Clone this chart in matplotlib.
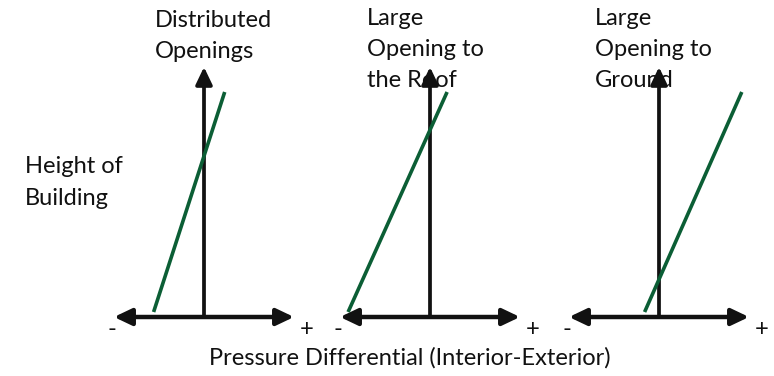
import matplotlib
matplotlib.use("Agg")
import matplotlib.pyplot as plt
from matplotlib.patches import FancyArrowPatch

# Qualitative internal-pressure profiles for three opening configurations
panel_titles = ["Distributed\nOpenings", "Large\nOpening to\nthe Roof", "Large\nOpening to\nGround"]
# normalised pressure differential (-1 .. +1) at the bottom and the top of the profile line
pressure_bottom = [-0.56, -0.91, -0.16]
pressure_top = [0.23, 0.19, 0.92]
# normalised building height (0 .. 1) at the two ends of the profile line
height_ends = [0.02, 0.90]
sign_labels = ["-", "+"]
y_label = "Height of\nBuilding"
x_label = "Pressure Differential (Interior-Exterior)"

W, H, DPI = 774, 376, 100
FONT = ["Lato", "DejaVu Sans"]
FS = 17
INK = "#111111"
GREEN = "#0b5e35"

fig = plt.figure(figsize=(W / DPI, H / DPI), dpi=DPI)
fig.patch.set_facecolor("white")


def ftext(x, y, s, **kw):
    """Place text at pixel position (x from left, y from top)."""
    kw.setdefault("fontsize", FS)
    kw.setdefault("family", FONT)
    kw.setdefault("color", INK)
    fig.text(x / W, 1 - y / H, s, **kw)


def lines_text(x, y0, s, step, **kw):
    for i, line in enumerate(s.split("\n")):
        ftext(x, y0 + i * step, line, va="baseline", ha="left", **kw)


panel_left = [114, 340, 569]   # pixel x of the left arrow tip of each panel
panel_width = 180
base_y, top_y = 317, 67
title_x = [155, 367, 595]
title_y = [27, 25, 25]

for i, title in enumerate(panel_titles):
    ax = fig.add_axes([panel_left[i] / W, (H - base_y) / H,
                       panel_width / W, (base_y - top_y) / H])
    ax.set_xlim(-1, 1)
    ax.set_ylim(0, 1)
    ax.axis("off")

    # text first so the arrows sit on top of it
    lines_text(title_x[i], title_y[i], title, 31)

    # pressure axis: double-headed
    ax.add_patch(FancyArrowPatch((-1, 0), (1, 0),
                                 arrowstyle="<|-|>,head_length=10.5,head_width=5",
                                 mutation_scale=1, lw=3.2, color=INK,
                                 shrinkA=0, shrinkB=0, clip_on=False, zorder=3))
    # height axis
    ax.add_patch(FancyArrowPatch((0, 0), (0, 1),
                                 arrowstyle="-|>,head_length=10.5,head_width=5",
                                 mutation_scale=1, lw=2.7, color=INK,
                                 shrinkA=0, shrinkB=0, clip_on=False, zorder=3))
    # pressure profile
    ax.plot([pressure_bottom[i], pressure_top[i]], height_ends,
            color=GREEN, lw=2.6, solid_capstyle="butt", zorder=4, clip_on=False)

    ax.text(-1.02, -0.048, sign_labels[0], ha="center", va="center",
            fontsize=FS, family=FONT, color=INK)
    ax.text(1.135, -0.048, sign_labels[1], ha="center", va="center",
            fontsize=FS, family=FONT, color=INK)

lines_text(25, 173, y_label, 32)
ftext(410, 365, x_label, ha="center", va="baseline")

fig.savefig("out.png", dpi=DPI, facecolor="white")
